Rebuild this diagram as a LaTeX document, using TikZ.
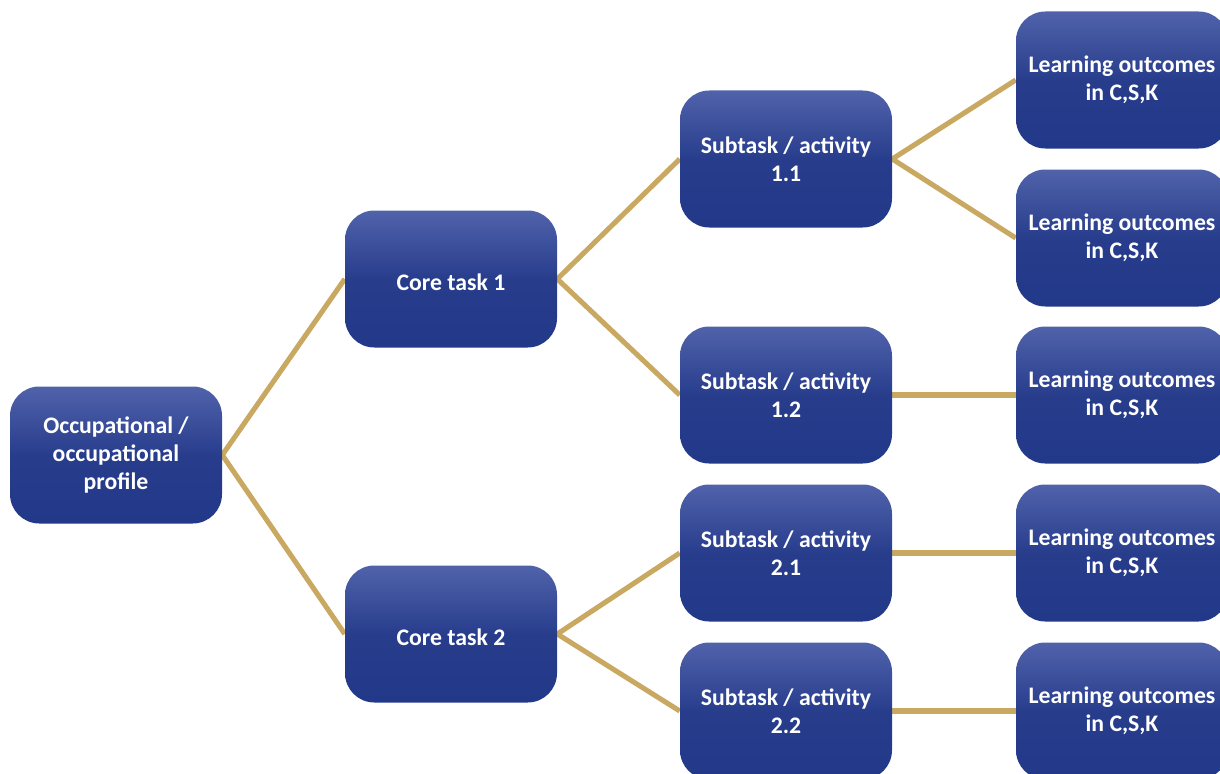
\documentclass[tikz,border=0pt]{standalone}
\usepackage{fontspec}
\setmainfont{Carlito}
\usetikzlibrary{backgrounds}
\definecolor{boxtop}{RGB}{80,98,170}
\definecolor{boxbot}{RGB}{34,56,136}
\definecolor{linkgold}{RGB}{201,169,98}
\begin{document}
\begin{tikzpicture}[x=0.75pt,y=-0.75pt,
  box/.style={rounded corners=22pt, minimum width=159pt, minimum height=102.75pt,
    top color=boxtop, bottom color=boxbot, middle color=boxbot!88!boxtop, draw=none,
    text=white, font=\bfseries\fontsize{17.8}{21}\selectfont, align=center, inner sep=0pt,
    execute at begin node={\rule{0pt}{18pt}}},
  link/.style={draw=linkgold, line width=3.8pt}]
\useasboundingbox (0,0) rectangle (1220,774);
\clip (0,0) rectangle (1220,774);
\node[box] (root) at (116,455) {Occupational /\\occupational\\profile};
\node[box] (c1) at (451,279) {Core task 1};
\node[box] (c2) at (451,634) {Core task 2};
\node[box] (s11) at (786,159) {Subtask / activity\\1.1};
\node[box] (s12) at (786,395) {Subtask / activity\\1.2};
\node[box] (s21) at (786,553) {Subtask / activity\\2.1};
\node[box] (s22) at (786,711) {Subtask / activity\\2.2};
\node[box] (l1) at (1122,80) {Learning outcomes\\in C,S,K};
\node[box] (l2) at (1122,238) {Learning outcomes\\in C,S,K};
\node[box] (l3) at (1122,395) {Learning outcomes\\in C,S,K};
\node[box] (l4) at (1122,553) {Learning outcomes\\in C,S,K};
\node[box] (l5) at (1122,711) {Learning outcomes\\in C,S,K};
\begin{pgfonlayer}{background}
\draw[link] (root.east) -- (c1.west);
\draw[link] (root.east) -- (c2.west);
\draw[link] (c1.east) -- (s11.west);
\draw[link] (c1.east) -- (s12.west);
\draw[link] (c2.east) -- (s21.west);
\draw[link] (c2.east) -- (s22.west);
\draw[link] (s11.east) -- (l1.west);
\draw[link] (s11.east) -- (l2.west);
\draw[link] (s12.east) -- (l3.west);
\draw[link] (s21.east) -- (l4.west);
\draw[link] (s22.east) -- (l5.west);
\end{pgfonlayer}
\end{tikzpicture}
\end{document}
